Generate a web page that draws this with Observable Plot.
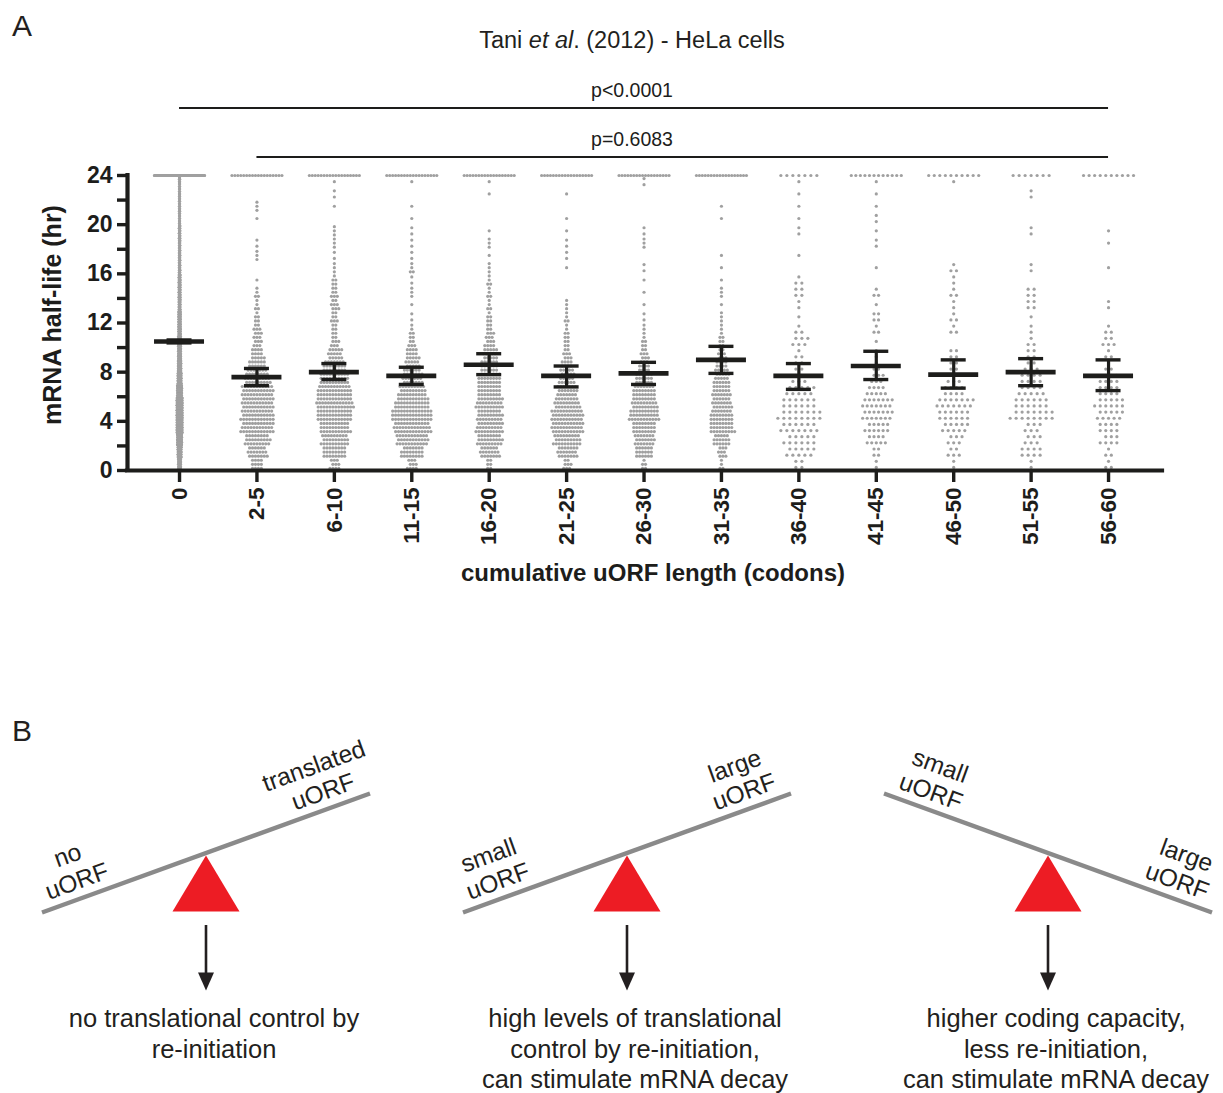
<!DOCTYPE html>
<html>
<head>
<meta charset="utf-8">
<script src="https://cdn.jsdelivr.net/npm/d3@7"></script>
<script src="https://cdn.jsdelivr.net/npm/@observablehq/plot@0.6"></script>
<style>
  html, body { margin: 0; padding: 0; background: #ffffff; }
  #fig { position: relative; width: 1223px; height: 1093px; overflow: hidden; background: #fff;
         font-family: "Liberation Sans", Arial, Helvetica, sans-serif; color: #231f20; }
  #panelA, #panelB { position: absolute; left: 0; }
  #panelA { top: 0; }
  #panelB { top: 700px; }
  .panel-letter { position: absolute; font-size: 30px; line-height: 30px; }
  #title { position: absolute; left: 332px; width: 600px; top: 29px; text-align: center;
           font-size: 23.5px; line-height: 23px; }
  #panelA [aria-label$="tick label"] text { font-weight: 700; }
</style>
</head>
<body>
<div id="fig">
  <div id="panelA"></div>
  <div id="panelB"></div>
  <div class="panel-letter" style="left:12px;top:11px">A</div>
  <div class="panel-letter" style="left:12px;top:716px">B</div>
  <div id="title">Tani <i>et al</i>. (2012) - HeLa cells</div>
</div>
<script>
// ---------------- DATA ----------------
const categories = ["0","2-5","6-10","11-15","16-20","21-25","26-30","31-35","36-40","41-45","46-50","51-55","56-60"];

// mean half-life and 95% CI per category (hr)
const means  = [10.5, 7.6, 8.0, 7.7, 8.6, 7.7, 7.9, 9.0, 7.7, 8.5, 7.8, 8.0, 7.7];
const ciLow  = [10.38, 6.9, 7.4, 7.0, 7.8, 6.8, 7.0, 7.9, 6.6, 7.4, 6.7, 6.9, 6.5];
const ciHigh = [10.62, 8.3, 8.7, 8.4, 9.5, 8.5, 8.8, 10.1, 8.7, 9.7, 9.0, 9.1, 9.0];

// number of transcripts plotted at the 24 h ceiling
const cappedCounts = [201, 18, 18, 18, 18, 18, 18, 18, 7, 12, 10, 7, 10];

// number of transcripts per 1-h half-life bin (0-1, 1-2, ..., 23-24 h)
const hist0    = [45,65,85,105,105,105,85,65,55,45,45,35,35,25,25,25,15,15,15,15,10,10,10,10];
const hist2_5  = [12,20,26,34,34,33,33,26,19,13,9,8,5,4,4,1,0,3,2,0,1,3,0,0];
const hist6_10 = [10,24,28,31,36,38,35,30,23,15,8,6,7,8,7,5,3,2,3,3,0,1,2,1];
const hist11_15= [10,23,33,38,42,35,28,21,16,13,7,4,2,1,3,2,4,2,2,2,1,1,0,1];
const hist16_20= [6,20,26,28,26,28,24,23,18,15,10,7,5,4,4,4,3,1,3,1,0,0,1,1];
const hist21_25= [8,21,28,33,33,26,21,16,13,8,6,4,4,3,0,0,1,2,2,1,1,0,1,0];
const hist26_30= [5,18,21,24,31,26,23,18,11,8,5,3,2,1,1,1,2,0,3,2,0,0,0,2];
const hist31_35= [4,9,17,25,23,20,19,16,13,8,6,3,3,1,3,1,1,1,0,0,1,1,0,0];
const hist36_40= [4,10,11,13,15,12,10,5,4,3,6,3,1,2,4,3,0,1,0,2,1,1,1,1];
const hist41_45= [2,4,9,11,14,14,9,6,3,2,1,3,4,1,3,0,1,0,2,1,2,1,1,1];
const hist46_50= [2,5,6,10,12,14,8,5,4,4,0,3,3,2,3,2,3,0,0,0,0,0,0,1];
const hist51_55= [2,8,6,6,15,12,9,8,5,4,3,2,1,4,4,0,2,0,0,2,0,0,2,0];
const hist56_60= [3,3,7,8,10,11,8,7,3,3,5,3,0,2,0,0,1,0,1,1,0,0,0,0];

const histograms = [hist0,hist2_5,hist6_10,hist11_15,hist16_20,hist21_25,hist26_30,hist31_35,
                    hist36_40,hist41_45,hist46_50,hist51_55,hist56_60];

// statistical comparisons shown above the plot
const comparisons = [
  {from: "0",   to: "56-60", label: "p<0.0001"},
  {from: "2-5", to: "56-60", label: "p=0.6083"}
];

const yLabel = "mRNA half-life (hr)";
const xLabel = "cumulative uORF length (codons)";

// panel B schematics
const seesawLeftLabels  = ["no\nuORF", "small\nuORF", "small\nuORF"];
const seesawRightLabels = ["translated\nuORF", "large\nuORF", "large\nuORF"];
const seesawTilt        = [1, 1, -1];   // +1: right side up, -1: right side down
const seesawCaptions = [
  "no translational control by\nre-initiation",
  "high levels of translational\ncontrol by re-initiation,\ncan stimulate mRNA decay",
  "higher coding capacity,\nless re-initiation,\ncan stimulate mRNA decay"
];

// ---------------- STYLE / LAYOUT ----------------
const FONT = '"Liberation Sans", Arial, Helvetica, sans-serif';
const INK = "#1d1d1b";
const DOT_GREY = "#a0a0a0";
const W = 1223;
const A = {height: 600, top: 175, bottom: 130, left: 127, right: 61, padL: 0.672, padR: 0.697};
const xDomain = [-A.padL, categories.length - 1 + A.padR];
const pxPerUnit = (W - A.left - A.right) / (xDomain[1] - xDomain[0]);
const MAX_ROW_PX = 50, MAX_STEP_PX = 6, DOT_R = 1.6;
const MEAN_HALF = 25 / pxPerUnit, CAP_HALF = 12.5 / pxPerUnit;

// scatter layout: dots of one row share a y value and are centred on the category,
// the horizontal step shrinks so that the widest row of a column fits MAX_ROW_PX;
// alternate rows are staggered by half a step
const dots = [];
histograms.forEach((h, i) => {
  let rpb = 2, step = MAX_STEP_PX;
  for (rpb of [2, 3, 5]) {
    const maxRow = Math.max(cappedCounts[i], ...h.map(n => Math.ceil(n / rpb)));
    step = Math.min(MAX_STEP_PX, MAX_ROW_PX / (maxRow - 1));
    if ((rpb === 2 && step >= 4) || (rpb === 3 && step >= 1)) break;
  }
  let rowIndex = 0;
  const addRow = (y, m) => {
    const shift = (rowIndex++ % 2 && m > 1 && m % 2) ? 0.5 : 0;
    for (let t = 0; t < m; t++) {
      const off = (t - (m - 1) / 2 + shift) * step;
      dots.push({cat: categories[i], x: i + off / pxPerUnit, y});
    }
  };
  addRow(24, cappedCounts[i]);
  rowIndex = 0;
  h.forEach((n, k) => {
    if (!n) return;
    const nr = Math.min(rpb, n);
    for (let j = 0; j < nr; j++) {
      const m = Math.floor(n / nr) + (j < n % nr ? 1 : 0);
      addRow(k + (j + 0.5) / nr, m);
    }
  });
});

const stats = categories.map((c, i) => ({i, cat: c, mean: means[i], lo: ciLow[i], hi: ciHigh[i]}));
const brackets = comparisons.map((c, j) => ({
  ...c,
  x1: categories.indexOf(c.from),
  x2: categories.indexOf(c.to),
  y: 25.5 + 4 * (comparisons.length - 1 - j)
}));

const plotA = Plot.plot({
  width: W, height: A.height,
  marginTop: A.top, marginBottom: A.bottom, marginLeft: A.left, marginRight: A.right,
  x: {domain: xDomain, label: null},
  y: {domain: [0, 24], label: null},
  style: {fontFamily: FONT, color: INK, background: "transparent", overflow: "visible"},
  marks: [
    Plot.dot(dots, {x: "x", y: "y", r: DOT_R, fill: DOT_GREY}),
    // mean and 95% CI
    Plot.ruleX(stats, {x: "i", y1: "lo", y2: "hi", stroke: INK, strokeWidth: 3.2}),
    Plot.ruleY(stats, {x1: d => d.i - CAP_HALF, x2: d => d.i + CAP_HALF, y: "lo", stroke: INK, strokeWidth: 3.4}),
    Plot.ruleY(stats, {x1: d => d.i - CAP_HALF, x2: d => d.i + CAP_HALF, y: "hi", stroke: INK, strokeWidth: 3.4}),
    Plot.ruleY(stats, {x1: d => d.i - MEAN_HALF, x2: d => d.i + MEAN_HALF, y: "mean", stroke: INK, strokeWidth: 4.6}),
    // axes
    Plot.axisY({ticks: d3.range(0, 25, 4), tickSize: 10, tickPadding: 5, fontSize: 23, fontWeight: "bold",
                strokeWidth: 3.4, stroke: INK, label: null}),
    Plot.axisY({ticks: d3.range(2, 24, 4), tickSize: 10, tickFormat: () => "", strokeWidth: 3.4, stroke: INK, label: null}),
    Plot.axisX({ticks: d3.range(categories.length), tickFormat: i => categories[i], tickRotate: -90,
                tickSize: 12, tickPadding: 5, fontSize: 22.5, fontWeight: "bold", strokeWidth: 3.4, stroke: INK, label: null}),
    Plot.ruleY([0], {stroke: INK, strokeWidth: 4.2, strokeLinecap: "square"}),
    Plot.ruleX([xDomain[0]], {y1: 0, y2: 24, stroke: INK, strokeWidth: 4.2, strokeLinecap: "square"}),
    // significance brackets
    Plot.ruleY(brackets, {x1: "x1", x2: "x2", y: "y", stroke: INK, strokeWidth: 2}),
    Plot.text(brackets, {y: "y", text: "label", frameAnchor: "middle", dx: -13, dy: -17, fontSize: 19.5, fill: INK}),
    // axis titles
    Plot.text([yLabel], {frameAnchor: "left", textAnchor: "middle", lineAnchor: "middle", rotate: -90,
                         dx: -75, dy: -8, fontSize: 25, fontWeight: "bold", fill: INK}),
    Plot.text([xLabel], {frameAnchor: "bottom", textAnchor: "middle", lineAnchor: "middle",
                         dx: 8, dy: 103, fontSize: 24, fontWeight: "bold", fill: INK})
  ]
});
document.getElementById("panelA").append(plotA);

// ---------------- PANEL B ----------------
const B = {height: 393, firstPivot: 205.5, spacing: 421, beamY: 152.5, halfLen: 164, rise: 59.5,
           labelAlong: 131, labelPerp: 32, triHalf: 33.5, triH: 56, arrowTop: 225, arrowTip: 290,
           headHalf: 8, headLen: 18, captionTop: 305, captionDx: 8};
const ang = Math.atan2(B.rise, B.halfLen);
const ca = Math.cos(ang), sa = Math.sin(ang);

const panels = seesawTilt.map((t, i) => {
  const px = B.firstPivot + i * B.spacing;
  const u = [ca, -t * sa], n = [-t * sa, -ca];
  const lab = s => [px + s * B.labelAlong * u[0] + B.labelPerp * n[0], B.beamY + s * B.labelAlong * u[1] + B.labelPerp * n[1]];
  const [lx, ly] = lab(-1), [rx, ry] = lab(1);
  return {i, px, tilt: t,
    x1: px - B.halfLen, y1: B.beamY + t * B.rise, x2: px + B.halfLen, y2: B.beamY - t * B.rise,
    lx, ly, rx, ry, rot: -t * ang * 180 / Math.PI,
    left: seesawLeftLabels[i], right: seesawRightLabels[i], caption: seesawCaptions[i]};
});
const triPts = panels.flatMap(p => [
  {i: p.i, x: p.px, y: B.beamY + 2.5},
  {i: p.i, x: p.px + B.triHalf, y: B.beamY + 2.5 + B.triH},
  {i: p.i, x: p.px - B.triHalf, y: B.beamY + 2.5 + B.triH}
]);
const headPts = panels.flatMap(p => [
  {i: p.i, x: p.px - B.headHalf, y: B.arrowTip - B.headLen},
  {i: p.i, x: p.px + B.headHalf, y: B.arrowTip - B.headLen},
  {i: p.i, x: p.px, y: B.arrowTip}
]);

const plotB = Plot.plot({
  width: W, height: B.height, margin: 0,
  x: {type: "identity", axis: null},
  y: {type: "identity", axis: null},
  style: {fontFamily: FONT, color: "#231f20", background: "transparent", overflow: "visible"},
  marks: [
    Plot.line(triPts, {x: "x", y: "y", z: "i", fill: "#ed1c24", stroke: "none"}),
    Plot.link(panels, {x1: "x1", y1: "y1", x2: "x2", y2: "y2", stroke: "#8a8a8a", strokeWidth: 4.5}),
    Plot.ruleX(panels, {x: "px", y1: B.arrowTop, y2: B.arrowTip - B.headLen + 2, stroke: "#231f20", strokeWidth: 2.6}),
    Plot.line(headPts, {x: "x", y: "y", z: "i", fill: "#231f20", stroke: "none"}),
    Plot.text(panels, {x: "lx", y: "ly", text: "left", rotate: "rot", fontSize: 24.5, lineHeight: 1.12, fill: "#231f20"}),
    Plot.text(panels, {x: "rx", y: "ry", text: "right", rotate: "rot", fontSize: 24.5, lineHeight: 1.12, fill: "#231f20"}),
    Plot.text(panels, {x: d => d.px + B.captionDx, y: () => B.captionTop, text: "caption", lineAnchor: "top",
                       fontSize: 25.5, lineHeight: 1.2, fill: "#231f20"})
  ]
});
document.getElementById("panelB").append(plotB);
</script>
</body>
</html>
